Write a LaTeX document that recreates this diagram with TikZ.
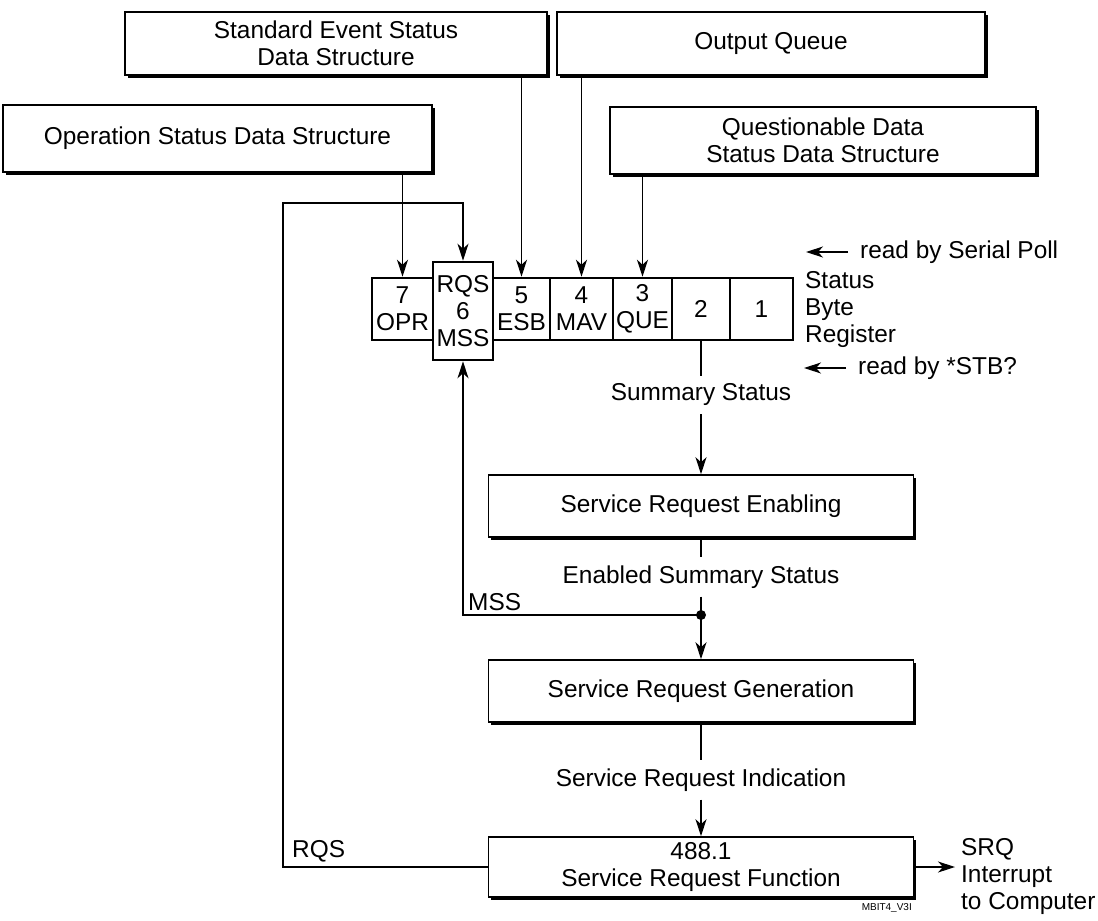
\documentclass[tikz,border=0pt]{standalone}
\usepackage{fontspec}
\setmainfont{Liberation Sans}
\usetikzlibrary{arrows.meta,shadows}

\begin{document}
\begin{tikzpicture}[
    x=1pt, y=-1pt,
    txt/.style={
      font=\fontsize{24.4}{27}\selectfont,
      inner sep=0pt
    },
    flowlbl/.style={
      txt,
      inner sep=8pt
    },
    block/.style 2 args={
      txt,
      draw,
      fill=white,
      line width=1.6pt,
      align=center,
      minimum width=#1,
      minimum height=#2,
      drop shadow={shadow xshift=2.5pt,shadow yshift=-2.5pt,fill=black,opacity=1}
    },
    bitcell/.style={
      txt,
      draw,
      fill=white,
      line width=2.6pt,
      align=center,
      minimum width=#1,
      minimum height=62pt
    },
    arr/.style={
      -{Stealth[length=17pt,width=11pt,inset=5pt]},
      line width=1.2pt
    },
    link/.style={
      line width=1.2pt
    }
  ]
  \useasboundingbox (0,0) rectangle (1098,921);

  % data structures feeding the status byte
  \node[block={429}{67}] (opsds) at (217.5,138.5) {Operation Status Data Structure};
  \node[block={422}{63}] (sesds) at (336,43.5)    {Standard Event Status\\Data Structure};
  \node[block={428}{63}] (outq)  at (771,43.5)    {Output Queue};
  \node[block={426}{67}] (qsds)  at (823,140.5)   {Questionable Data\\Status Data Structure};

  % status byte register
  \node[bitcell=61] (bit7) at (402.5,309) {7\\OPR};
  \node[bitcell=57] (bit5) at (521.5,309) {5\\ESB};
  \node[bitcell=63] (bit4) at (581.5,309) {4\\MAV};
  \node[bitcell=59] (bit3) at (642.5,309) {3\\QUE};
  \node[bitcell=58] (bit2) at (701,309)   {2};
  \node[bitcell=63] (bit1) at (761.5,309) {1};
  \node[bitcell=60, minimum height=98pt] (bit6) at (463,311) {RQS\\6\\MSS};

  \node[txt, anchor=west, align=left] (sbr) at (805,310) {Status\\Byte\\Register};
  \node[txt, anchor=west] (rdsp)  at (860,252) {read by Serial Poll};
  \node[txt, anchor=west] (rdstb) at (858,368) {read by *STB?};
  \coordinate (rdsptail)  at (848,252);
  \coordinate (rdsptip)   at (806,252);
  \coordinate (rdstbtail) at (846,368);
  \coordinate (rdstbtip)  at (804,368);
  \draw[arr] (rdsptail) -- (rdsptip);
  \draw[arr] (rdstbtail) -- (rdstbtip);

  \draw[arr] (opsds.south -| bit7.north) -- (bit7.north);
  \draw[arr] (sesds.south -| bit5.north) -- (bit5.north);
  \draw[arr] (outq.south -| bit4.north)  -- (bit4.north);
  \draw[arr] (qsds.south -| bit3.north)  -- (bit3.north);

  % service request chain
  \node[flowlbl] (sumst) at (701,395) {Summary Status};
  \node[block={425}{62}] (sren) at (701,506) {Service Request Enabling};
  \node[flowlbl] (ensum) at (701,577) {Enabled Summary Status};
  \coordinate (jn) at (701,615);
  \node[block={425}{62}] (srgen) at (701,691) {Service Request Generation};
  \node[flowlbl] (srind) at (701,780) {Service Request Indication};
  \node[block={425}{60}] (srfun) at (701,867) {488.1\\Service Request Function};

  \draw[link] (bit2.south) -- (sumst.north);
  \draw[arr]  (sumst.south) -- (sren.north);
  \draw[link] (sren.south) -- (ensum.north);
  \draw[link] (ensum.south) -- (jn);
  \draw[arr]  (jn) -- (srgen.north);
  \draw[link] (srgen.south) -- (srind.north);
  \draw[arr]  (srind.south) -- (srfun.north);
  \fill (jn) circle (5pt);

  % MSS and RQS feedback
  \draw[arr] (jn) -| (bit6.south);
  \node[txt, anchor=south west] (msslbl) at (468,611) {MSS};
  \coordinate (rqsturn) at (283,203);
  \draw[arr] (srfun.west) -| (rqsturn) -| (bit6.north);
  \node[txt, anchor=south west] (rqslbl) at (292,862) {RQS};

  % SRQ output
  \coordinate (srqend) at (955,867);
  \draw[arr] (srfun.east) -- (srqend);
  \node[txt, anchor=north west, align=left] (srq) at (961,838) {SRQ\\Interrupt\\to Computer};
  \node[font=\fontsize{10}{12}\selectfont, inner sep=0pt, anchor=east] (tag) at (912,908) {MBIT4\_V3I};

\end{tikzpicture}
\end{document}
